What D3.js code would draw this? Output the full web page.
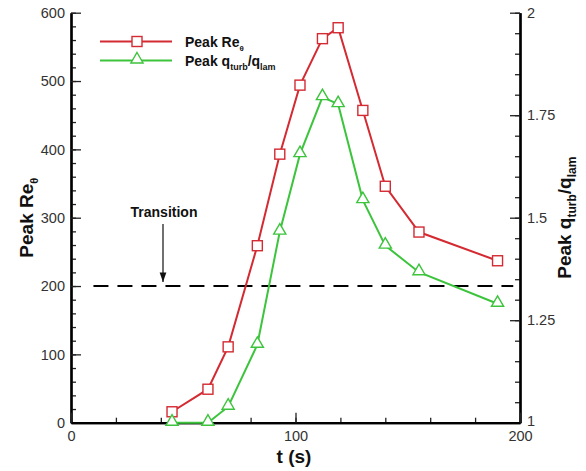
<!DOCTYPE html>
<html>
<head>
<meta charset="utf-8">
<script src="https://cdn.jsdelivr.net/npm/d3@7/dist/d3.min.js"></script>
<style>
  html, body { margin: 0; padding: 0; background: #fff; }
  svg { display: block; font-family: "Liberation Sans", Arial, sans-serif; }
</style>
</head>
<body>
<svg id="chart" width="586" height="471"></svg>
<script>
// Sampling times (s)
const times = [45, 61, 70, 83, 93, 102, 112, 119, 130, 140, 155, 190];
// Peak momentum-thickness Reynolds number (left axis)
const peakRe = [16, 49, 111, 259, 393, 494, 562, 578, 457, 346, 279, 237];
// Peak turbulent / laminar heat-flux ratio (right axis)
const peakQ = [1.0, 1.0, 1.039, 1.19, 1.466, 1.655, 1.794, 1.777, 1.543, 1.432, 1.367, 1.29];

const xTicks = [0, 100, 200];
const yLeftTicks = [0, 100, 200, 300, 400, 500, 600];
const yRightTicks = [1, 1.25, 1.5, 1.75, 2];
const transitionRe = 200;

const svg = d3.select("#chart");
const L = 71, R = 520, T = 12.7, B = 422.7;

const x = d3.scaleLinear().domain([0, 200]).range([L, R]);
const yL = d3.scaleLinear().domain([0, 600]).range([B, T]);
const yR = d3.scaleLinear().domain([1, 2]).range([B, T]);

const red = "#d42a32", green = "#3cc43c";

// Minor ticks
svg.append("g").attr("transform", `translate(${L},0)`)
  .call(d3.axisLeft(yL).tickValues(d3.range(0, 601, 20)).tickSize(-5).tickFormat("").tickSizeOuter(0));
svg.append("g").attr("transform", `translate(${R},0)`)
  .call(d3.axisRight(yR).tickValues(d3.range(1, 2.001, 0.05)).tickSize(-5).tickFormat("").tickSizeOuter(0));
svg.append("g").attr("transform", `translate(0,${B})`)
  .call(d3.axisBottom(x).tickValues(d3.range(0, 201, 20)).tickSize(-5).tickFormat("").tickSizeOuter(0));

// Major ticks with labels
const axL = svg.append("g").attr("transform", `translate(${L},0)`)
  .call(d3.axisLeft(yL).tickValues(yLeftTicks).tickSize(-10).tickPadding(6).tickSizeOuter(0).tickFormat(d3.format("d")));
const axR = svg.append("g").attr("transform", `translate(${R},0)`)
  .call(d3.axisRight(yR).tickValues(yRightTicks).tickSize(-10).tickPadding(7).tickSizeOuter(0).tickFormat(d => String(d)));
const axB = svg.append("g").attr("transform", `translate(0,${B})`)
  .call(d3.axisBottom(x).tickValues(xTicks).tickSize(-10).tickPadding(8).tickSizeOuter(0).tickFormat(d3.format("d")));

svg.selectAll(".domain").attr("stroke", "#000").attr("stroke-width", 2.2);
svg.selectAll(".tick line").attr("stroke", "#222").attr("stroke-width", 1.3);
[axL, axR, axB].forEach(a => a.selectAll("text")
  .attr("font-size", 14.5).attr("fill", "#333").attr("font-family", "Liberation Sans, Arial, sans-serif"));
axR.selectAll(".tick").filter(d => d === 1).select("text").attr("dy", "0.2em");

// Transition threshold
svg.append("line")
  .attr("x1", x(10)).attr("x2", x(197))
  .attr("y1", yL(transitionRe)).attr("y2", yL(transitionRe))
  .attr("stroke", "#000").attr("stroke-width", 2).attr("stroke-dasharray", "15,9");

svg.append("text").attr("x", 164).attr("y", 217).attr("text-anchor", "middle")
  .attr("font-size", 14).attr("font-weight", "bold").attr("fill", "#111").text("Transition");
svg.append("defs").append("marker").attr("id", "arrow")
  .attr("viewBox", "0 0 10 10").attr("refX", 10).attr("refY", 5)
  .attr("markerWidth", 8).attr("markerHeight", 8).attr("orient", "auto")
  .append("path").attr("d", "M0,1.5 L10,5 L0,8.5 Z").attr("fill", "#111");
svg.append("line").attr("x1", 163).attr("x2", 163).attr("y1", 224).attr("y2", yL(transitionRe) - 4)
  .attr("stroke", "#111").attr("stroke-width", 1.2).attr("marker-end", "url(#arrow)");

// Series
const reLine = d3.line().x((d, i) => x(times[i])).y(d => yL(d));
const qLine = d3.line().x((d, i) => x(times[i])).y(d => yR(d));

svg.append("path").datum(peakRe).attr("d", reLine)
  .attr("fill", "none").attr("stroke", red).attr("stroke-width", 2);
svg.append("path").datum(peakQ).attr("d", qLine)
  .attr("fill", "none").attr("stroke", green).attr("stroke-width", 2);

const sq = 10;
svg.append("g").selectAll("rect").data(peakRe).join("rect")
  .attr("x", (d, i) => x(times[i]) - sq / 2).attr("y", d => yL(d) - sq / 2)
  .attr("width", sq).attr("height", sq)
  .attr("fill", "#fff").attr("stroke", red).attr("stroke-width", 1.4);

const tri = d3.symbol().type(d3.symbolTriangle).size(64);
svg.append("g").selectAll("path").data(peakQ).join("path")
  .attr("d", tri)
  .attr("transform", (d, i) => `translate(${x(times[i])},${yR(d) - 1})`)
  .attr("fill", "#fff").attr("stroke", green).attr("stroke-width", 1.4);

// Legend
const lg = svg.append("g");
lg.append("line").attr("x1", 100).attr("x2", 172).attr("y1", 41.5).attr("y2", 41.5)
  .attr("stroke", red).attr("stroke-width", 2);
lg.append("rect").attr("x", 137 - sq / 2).attr("y", 41.5 - sq / 2).attr("width", sq).attr("height", sq)
  .attr("fill", "#fff").attr("stroke", red).attr("stroke-width", 1.4);
lg.append("line").attr("x1", 100).attr("x2", 172).attr("y1", 60.5).attr("y2", 60.5)
  .attr("stroke", green).attr("stroke-width", 2);
lg.append("path").attr("d", tri).attr("transform", "translate(137,59.5)")
  .attr("fill", "#fff").attr("stroke", green).attr("stroke-width", 1.4);

const t1 = lg.append("text").attr("x", 185).attr("y", 47).attr("font-size", 14).attr("font-weight", "bold").attr("fill", "#111");
t1.append("tspan").text("Peak Re");
t1.append("tspan").attr("font-size", 8).attr("dy", 4).text("θ");

const t2 = lg.append("text").attr("x", 185).attr("y", 66).attr("font-size", 14).attr("font-weight", "bold").attr("fill", "#111");
t2.append("tspan").text("Peak q");
t2.append("tspan").attr("font-size", 9).attr("dy", 4).text("turb");
t2.append("tspan").attr("dy", -4).text("/q");
t2.append("tspan").attr("font-size", 9).attr("dy", 4).text("lam");

// Axis titles
const yt = svg.append("text").attr("transform", `translate(33,${(T + B) / 2}) rotate(-90)`)
  .attr("text-anchor", "middle").attr("font-size", 19).attr("font-weight", "bold").attr("fill", "#111");
yt.append("tspan").text("Peak Re");
yt.append("tspan").attr("font-size", 11).attr("dy", 5).text("θ");

const yt2 = svg.append("text").attr("transform", `translate(571,${(T + B) / 2}) rotate(-90)`)
  .attr("text-anchor", "middle").attr("font-size", 19).attr("font-weight", "bold").attr("fill", "#111");
yt2.append("tspan").text("Peak q");
yt2.append("tspan").attr("font-size", 12).attr("dy", 5).text("turb");
yt2.append("tspan").attr("dy", -5).text("/q");
yt2.append("tspan").attr("font-size", 12).attr("dy", 5).text("lam");

svg.append("text").attr("x", 294).attr("y", 463).attr("text-anchor", "middle")
  .attr("font-size", 19).attr("font-weight", "bold").attr("fill", "#111").text("t (s)");
</script>
</body>
</html>
